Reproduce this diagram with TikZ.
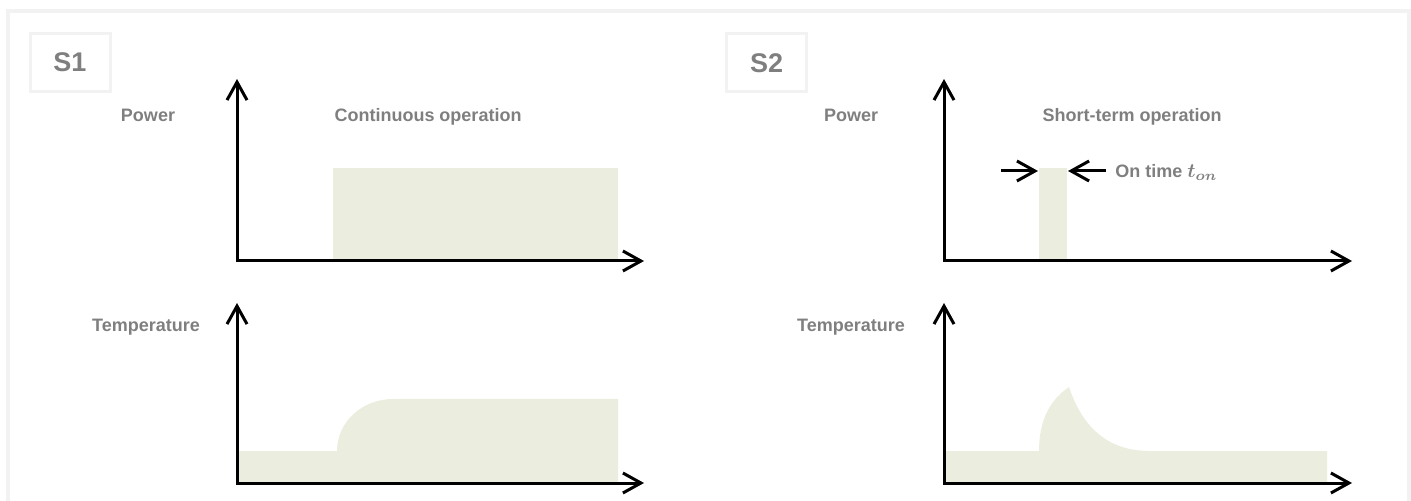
\documentclass[tikz,border=0pt]{standalone}
\usepackage{bm}
\usepackage{fontspec}
\setmainfont{Liberation Sans}
\usetikzlibrary{arrows.meta}
\definecolor{labelgray}{HTML}{7F7F7F}
\definecolor{framegray}{HTML}{F2F2F2}
\definecolor{loadfill}{HTML}{EBEEDE}
\tikzset{
	axis/.style={line width=1.5pt,{Straight Barb[length=9pt,width=10pt]}-{Straight Barb[length=9pt,width=10pt]}},
	pointer/.style={line width=1.5pt,-{Straight Barb[length=9pt,width=10pt]}},
	lbl/.style={text=labelgray,font=\bfseries\fontsize{9}{11}\selectfont,inner sep=0pt,anchor=base},
	tag/.style={draw=framegray,line width=1.5pt,text=labelgray,font=\bfseries\fontsize{13.5}{16}\selectfont,minimum width=40pt,minimum height=29pt,inner sep=0pt}
}
\begin{document}
\begin{tikzpicture}[x=0.5pt,y=-0.5pt]
	\useasboundingbox (0,0) rectangle (1411,501);
	\draw[framegray,line width=2pt] (8,501) -- (8,11) -- (1409,11) -- (1409,501);
	\node[tag](s1) at (70,62.5) {S1};
	\node[tag](s2) at (766.5,63) {S2};
	\fill[loadfill] (333,168) rectangle (618,261);
	\fill[loadfill] (237,483) -- (237,451) -- (337,451) .. controls (337,422) and (362,399) .. (393,399) -- (618,399) -- (618,483) -- cycle;
	\fill[loadfill] (1039,168) rectangle (1067,261);
	\fill[loadfill] (944,483) -- (944,451) -- (1039,451) .. controls (1039,420) and (1050,400) .. (1069,387) .. controls (1085,435) and (1115,451) .. (1150,451) -- (1327,451) -- (1327,483) -- cycle;
	\coordinate(p1top) at (237,79);
	\coordinate(p1o) at (237,261);
	\coordinate(p1end) at (644,261);
	\coordinate(t1top) at (237,303);
	\coordinate(t1o) at (237,483);
	\coordinate(t1end) at (644,483);
	\coordinate(p2top) at (944,79);
	\coordinate(p2o) at (944,261);
	\coordinate(p2end) at (1352,261);
	\coordinate(t2top) at (944,303);
	\coordinate(t2o) at (944,483);
	\coordinate(t2end) at (1352,483);
	\draw[axis] (p1top) -- (p1o) -- (p1end);
	\draw[axis] (t1top) -- (t1o) -- (t1end);
	\draw[axis] (p2top) -- (p2o) -- (p2end);
	\draw[axis] (t2top) -- (t2o) -- (t2end);
	\node[lbl](pow1) at (148,121.5) {Power};
	\node[lbl](temp1) at (146,332) {Temperature};
	\node[lbl](cont) at (428,121.5) {Continuous operation};
	\node[lbl](pow2) at (851,121.5) {Power};
	\node[lbl](temp2) at (851,332) {Temperature};
	\node[lbl](short) at (1132,121.5) {Short-term operation};
	\coordinate(onl) at (1001,171);
	\coordinate(onla) at (1038,171);
	\coordinate(onr) at (1106,171);
	\coordinate(onra) at (1068,171);
	\node[lbl,anchor=base west](ontime) at (1115,177.5) {On time {\fontsize{10}{12}\selectfont$\bm{t_{on}}$}};
	\draw[pointer] (onl) -- (onla);
	\draw[pointer] (onr) -- (onra);
\end{tikzpicture}
\end{document}
